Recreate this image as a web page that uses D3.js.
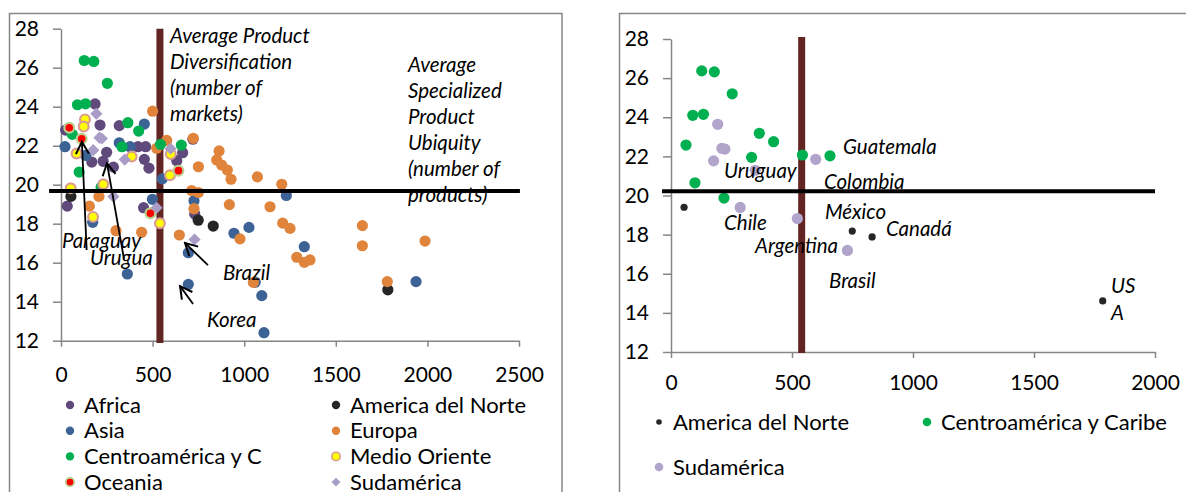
<!DOCTYPE html>
<html>
<head>
<meta charset="utf-8">
<script src="https://cdn.jsdelivr.net/npm/d3@7"></script>
<style>
  html, body { margin: 0; padding: 0; background: #fff; }
  svg { display: block; font-family: Lato, "Open Sans", sans-serif; }
</style>
</head>
<body>
<svg id="chart" width="1186" height="492"></svg>
<script>
// ---------- data: [diversification (markets), ubiquity (products)] ----------
const yTicks = [12, 14, 16, 18, 20, 22, 24, 26, 28];
const xTicksWorld = [0, 500, 1000, 1500, 2000, 2500];
const xTicksAmericas = [0, 500, 1000, 1500, 2000];

const africa = [[186,24.14],[213,23.06],[318,23.03],[25,22.8],[249,21.66],[168,21.16],[230,21.2],[286,20.9],
  [420,21.95],[462,21.95],[455,21.3],[480,20.85],[34,18.9],[451,18.82],[664,21.64],[632,21.23],[720,22.33],[730,18.5]];
const americaNorte = [[54,19.4],[749,18.18],[831,17.88],[1784,14.61]];
const asia = [[22,21.95],[136,21.5],[318,22.15],[377,21.95],[455,23.11],[499,19.25],[553,20.3],[173,18.07],[362,15.42],
  [695,16.51],[695,14.89],[726,19.18],[944,17.51],[1026,17.81],[1060,15.0],[1096,14.31],[1108,12.41],[1230,19.45],
  [1328,16.82],[1938,15.03]];
const europa = [[500,23.77],[722,22.38],[522,21.87],[577,22.27],[750,20.92],[863,21.73],[850,21.27],[877,21.01],
  [908,20.75],[928,20.28],[1072,20.4],[1205,20.02],[713,19.7],[750,19.6],[726,18.77],[919,18.98],[1141,18.87],
  [155,18.9],[207,19.4],[300,17.64],[440,17.56],[646,17.42],[977,17.22],[1050,14.99],[1210,18.03],[1250,17.76],
  [1287,16.28],[1328,16.02],[1359,16.14],[1645,17.9],[1645,16.87],[1987,17.11],[1781,15.03]];
const centroamerica = [[62,22.58],[90,24.1],[127,26.37],[134,24.15],[179,26.32],[253,25.2],[99,20.65],[219,19.87],
  [333,21.95],[365,23.18],[424,22.75],[543,22.07],[657,22.03]];
const medioOriente = [[131,23.35],[124,22.98],[85,21.6],[386,21.44],[231,20.02],[53,19.82],[175,18.35],[540,18.02],
  [599,21.57],[595,20.48]];
const oceania = [[45,22.92],[113,22.36],[488,18.53],[641,20.72]];
const sudamerica = [[193,23.64],[176,21.77],[210,22.41],[223,22.37],[348,21.29],[286,19.39],[522,18.82],[598,21.85],[729,17.19]];

// reference averages: vertical = product diversification, horizontal = product ubiquity
const avgDiversification = 540;
const worldUbiquity = 19.68;
const americasUbiquity = 20.22;

// ---------- styling ----------
const COLORS = {
  africa: "#604a7b", norte: "#262626", asia: "#3c6296", europa: "#e0843c",
  centro: "#00b050", medio: "#ffff00", medioRing: "#d99c93", oceania: "#ff0000",
  oceaniaRing: "#b9d08f", sud: "#a99cc6", sudLight: "#b1a5cc", avgV: "#632523", axis: "#868686"
};
const TICK_SIZE = 21, LEGEND_SIZE = 22, NOTE_SIZE = 20.5;

const svg = d3.select("#chart");
const defs = svg.append("defs");
defs.append("marker")
  .attr("id", "openArrow")
  .attr("viewBox", "-14 -8 16 16")
  .attr("refX", 0).attr("refY", 0)
  .attr("markerWidth", 16).attr("markerHeight", 16)
  .attr("markerUnits", "userSpaceOnUse")
  .attr("orient", "auto")
  .append("path")
  .attr("d", "M-12,-6.5 L0,0 L-12,6.5")
  .attr("fill", "none").attr("stroke", "#000").attr("stroke-width", 2);

const diamond = d3.symbol(d3.symbolSquare, 74)();

function drawMarker(g, shape, fill, ring, r) {
  if (shape === "diamond") {
    return g.append("path").attr("d", diamond).attr("transform", "rotate(45)").attr("fill", fill);
  }
  const c = g.append("circle").attr("r", r).attr("fill", fill);
  if (ring) c.attr("stroke", ring).attr("stroke-width", 2.2);
  return c;
}

function drawPanel(opt) {
  const g = svg.append("g");
  // outer frame
  g.append("rect")
    .attr("x", opt.frame[0]).attr("y", opt.frame[1])
    .attr("width", opt.frame[2]).attr("height", opt.frame[3])
    .attr("fill", "none").attr("stroke", COLORS.axis).attr("stroke-width", 1.5);

  const x = d3.scaleLinear().domain(opt.xDomain).range(opt.xRange);
  const y = d3.scaleLinear().domain([12, 28]).range(opt.yRange);

  const yAxis = g.append("g").attr("transform", `translate(${opt.xRange[0]},0)`)
    .call(d3.axisLeft(y).tickValues(yTicks).tickFormat(d3.format("d"))
      .tickSize(8).tickPadding(14).tickSizeOuter(0));
  const xAxis = g.append("g").attr("transform", `translate(0,${opt.yRange[0]})`)
    .call(d3.axisBottom(x).tickValues(opt.xTicks).tickFormat(d3.format("d"))
      .tickSize(6).tickPadding(opt.xPad).tickSizeOuter(0));
  [xAxis, yAxis].forEach(a => {
    a.select(".domain").attr("stroke", COLORS.axis).attr("stroke-width", 1.5);
    a.selectAll(".tick line").attr("stroke", COLORS.axis).attr("stroke-width", 1.5);
    a.selectAll(".tick text").attr("fill", "#000")
      .style("font-size", TICK_SIZE + "px").style("font-family", "Lato");
  });

  // average diversification (vertical bar)
  g.append("line")
    .attr("x1", x(avgDiversification)).attr("x2", x(avgDiversification))
    .attr("y1", y(opt.vLine[0])).attr("y2", y(opt.vLine[1]))
    .attr("stroke", COLORS.avgV).attr("stroke-width", 7);

  // scatter series
  opt.series.forEach(s => {
    const sg = g.append("g");
    s.data.forEach(d => {
      const m = sg.append("g").attr("transform", `translate(${x(d[0])},${y(d[1])})`);
      drawMarker(m, s.shape, s.fill, s.ring, s.r);
    });
  });

  // annotation labels
  opt.labels.forEach(l => {
    const t = g.append("text")
      .attr("x", x(l.at[0])).attr("y", y(l.at[1]))
      .style("font-style", "italic").style("font-size", NOTE_SIZE + "px").attr("fill", "#000");
    l.lines.forEach((line, i) => {
      t.append("tspan").attr("x", x(l.at[0])).attr("dy", i === 0 ? 0 : opt.lineStep).text(line);
    });
  });

  // arrows
  (opt.arrows || []).forEach(a => {
    g.append("line")
      .attr("x1", x(a.from[0])).attr("y1", y(a.from[1]))
      .attr("x2", x(a.to[0])).attr("y2", y(a.to[1]))
      .attr("stroke", "#000").attr("stroke-width", 1.8)
      .attr("marker-end", "url(#openArrow)");
  });

  // average ubiquity (horizontal line)
  g.append("line")
    .attr("x1", x(opt.hLine.from)).attr("x2", x(opt.hLine.to))
    .attr("y1", y(opt.hLine.value)).attr("y2", y(opt.hLine.value))
    .attr("stroke", "#000").attr("stroke-width", 4);

  // legend
  opt.legend.forEach((item, i) => {
    const col = i % opt.legendCols, row = Math.floor(i / opt.legendCols);
    const lx = opt.legendX[col], ly = opt.legendY0 + row * opt.legendStep;
    const m = g.append("g").attr("transform", `translate(${lx},${ly})`);
    if (item.shape === "diamond") {
      m.append("path").attr("d", d3.symbol(d3.symbolSquare, 40)()).attr("transform", "rotate(45)").attr("fill", item.fill);
    } else {
      const c = m.append("circle").attr("r", item.r).attr("fill", item.fill);
      if (item.ring) c.attr("stroke", item.ring).attr("stroke-width", 1.6);
    }
    g.append("text").attr("x", lx + opt.legendGap).attr("y", ly).attr("dy", "0.35em")
      .style("font-size", LEGEND_SIZE + "px").attr("fill", "#000").text(item.name);
  });
}

const worldSeries = [
  { name: "Africa", data: africa, shape: "circle", fill: COLORS.africa, r: 5.6 },
  { name: "America del Norte", data: americaNorte, shape: "circle", fill: COLORS.norte, r: 5.6 },
  { name: "Asia", data: asia, shape: "circle", fill: COLORS.asia, r: 5.6 },
  { name: "Europa", data: europa, shape: "circle", fill: COLORS.europa, r: 5.6 },
  { name: "Centroamérica y C", data: centroamerica, shape: "circle", fill: COLORS.centro, r: 5.6 },
  { name: "Medio Oriente", data: medioOriente, shape: "circle", fill: COLORS.medio, ring: COLORS.medioRing, r: 4.9 },
  { name: "Oceania", data: oceania, shape: "circle", fill: COLORS.oceania, ring: COLORS.oceaniaRing, r: 4.9 },
  { name: "Sudamérica", data: sudamerica, shape: "diamond", fill: COLORS.sud }
];

drawPanel({
  frame: [9.5, 13.5, 552.5, 520],
  xDomain: [0, 2500], xRange: [61, 519], yRange: [340.7, 28.7],
  xTicks: xTicksWorld, xPad: 20,
  vLine: [28, 11.88],
  hLine: { from: -65, to: 2505, value: worldUbiquity },
  series: worldSeries,
  lineStep: 26,
  labels: [
    { at: [595, 27.27], lines: ["Average Product", "Diversification", "(number of", "markets)"] },
    { at: [1894, 25.78], lines: ["Average", "Specialized", "Product", "Ubiquity", "(number of", "products)"] },
    { at: [5, 16.75], lines: ["Paraguay"] },
    { at: [158, 15.88], lines: ["Urugua"] },
    { at: [884, 15.11], lines: ["Brazil"] },
    { at: [797, 12.7], lines: ["Korea"] }
  ],
  arrows: [
    { from: [140, 16.65], to: [114, 22.2] },
    { from: [344, 16.19], to: [251, 21.1] },
    { from: [802, 15.88], to: [677, 17.01] },
    { from: [721, 13.88], to: [650, 14.8] }
  ],
  legend: worldSeries.map(s => ({ name: s.name, shape: s.shape, fill: s.fill, ring: s.ring, r: 4.2 })),
  legendCols: 2, legendX: [70, 336], legendY0: 405, legendStep: 25.7, legendGap: 14
});

const americasSeries = [
  { name: "America del Norte", data: americaNorte, shape: "circle", fill: COLORS.norte, r: 3.6 },
  { name: "Centroamérica y Caribe", data: centroamerica, shape: "circle", fill: COLORS.centro, r: 5.6 },
  { name: "Sudamérica", data: sudamerica, shape: "circle", fill: COLORS.sudLight, r: 5.6 }
];

drawPanel({
  frame: [619.5, 13.5, 620, 520],
  xDomain: [0, 2000], xRange: [671, 1155], yRange: [352, 39],
  xTicks: xTicksAmericas, xPad: 17,
  vLine: [28.1, 11.95],
  hLine: { from: -37, to: 2000, value: americasUbiquity },
  series: americasSeries,
  lineStep: 26,
  labels: [
    { at: [711, 22.12], lines: ["Guatemala"] },
    { at: [219, 20.89], lines: ["Uruguay"] },
    { at: [632, 20.33], lines: ["Colombia"] },
    { at: [636, 18.8], lines: ["México"] },
    { at: [219, 18.23], lines: ["Chile"] },
    { at: [888, 17.93], lines: ["Canadá"] },
    { at: [347, 17.06], lines: ["Argentina"] },
    { at: [653, 15.27], lines: ["Brasil"] },
    { at: [1818, 15.01], lines: ["US"] },
    { at: [1818, 13.64], lines: ["A"] }
  ],
  legend: [
    { name: "America del Norte", shape: "circle", fill: COLORS.norte, r: 2.8 },
    { name: "Centroamérica y Caribe", shape: "circle", fill: COLORS.centro, r: 4.3 },
    { name: "Sudamérica", shape: "circle", fill: COLORS.sudLight, r: 4.3 }
  ],
  legendCols: 2, legendX: [659, 927], legendY0: 422, legendStep: 45, legendGap: 14
});
</script>
</body>
</html>
